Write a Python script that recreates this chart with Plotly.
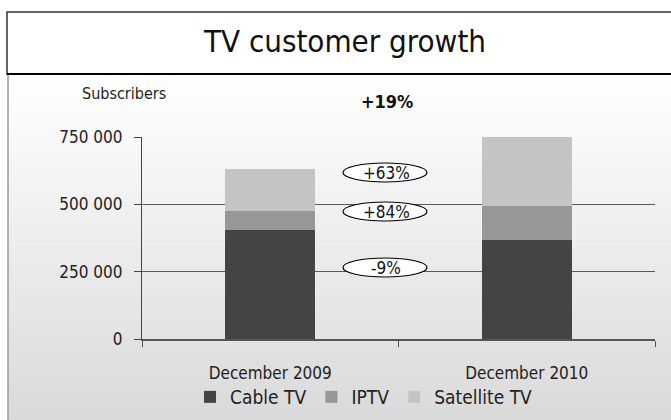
import plotly.graph_objects as go

# ---- data ----
categories = ["December 2009", "December 2010"]
cable_tv = [405000, 368000]
iptv = [70000, 126000]
satellite_tv = [156000, 256000]
series_names = ["Cable TV", "IPTV", "Satellite TV"]
growth_labels = ["+63%", "+84%", "-9%"]
total_growth = "+19%"
y_tick_vals = [0, 250000, 500000, 750000]
y_tick_text = ["0", "250 000", "500 000", "750 000"]

FONT = "DejaVu Sans Condensed, Liberation Sans Narrow, sans-serif"
colors = ["#444444", "#979797", "#c4c4c4"]

W, H = 671, 420
L, R, T, B = 142, 16, 137, 81
PW, PH = W - L - R, H - T - B


def px_x(x):
    return (x - L) / PW


def px_y(y):
    return (H - B - y) / PH


fig = go.Figure()
for name, vals, c in zip(series_names, [cable_tv, iptv, satellite_tv], colors):
    fig.add_trace(go.Bar(x=categories, y=vals, name=name, marker=dict(color=c, line=dict(width=0)),
                         hoverinfo="skip"))

shapes = []
# gradient background panel
n = 90
y_top, y_bot = 74, 420
for i in range(n):
    t = i / (n - 1)
    v = int(round(255 - t * (255 - 218)))
    ya = y_top + (y_bot - y_top) * i / n
    yb = y_top + (y_bot - y_top) * (i + 1) / n + 0.6
    shapes.append(dict(type="rect", xref="paper", yref="paper", layer="below",
                       x0=px_x(8), x1=px_x(W + 5), y0=px_y(ya), y1=px_y(yb),
                       fillcolor=f"rgb({v},{v},{v})", line=dict(width=0)))
# panel left border
shapes.append(dict(type="line", xref="paper", yref="paper", layer="above",
                   x0=px_x(8), x1=px_x(8), y0=px_y(74), y1=px_y(H + 5),
                   line=dict(color="#9a9a9a", width=1.5)))
# title box
shapes.append(dict(type="rect", xref="paper", yref="paper", layer="above",
                   x0=px_x(7), x1=px_x(W + 5), y0=px_y(74), y1=px_y(12),
                   fillcolor="rgba(0,0,0,0)", line=dict(color="#333333", width=1.5)))
shapes.append(dict(type="line", xref="paper", yref="paper", layer="above",
                   x0=px_x(7), x1=px_x(W + 5), y0=px_y(74), y1=px_y(74),
                   line=dict(color="#000000", width=2)))

# ellipses for growth labels
ell_centers = [172.5, 211.5, 267.5]
annotations = []
for lab, cy in zip(growth_labels, ell_centers):
    shapes.append(dict(type="circle", xref="paper", yref="paper", layer="above",
                       x0=px_x(343), x1=px_x(427), y0=px_y(cy + 9.5), y1=px_y(cy - 9.5),
                       fillcolor="white", line=dict(color="#000000", width=1.2)))
    annotations.append(dict(text=lab, xref="paper", yref="paper", x=px_x(386), y=px_y(cy),
                            showarrow=False, xanchor="center", yanchor="middle",
                            font=dict(family=FONT, size=17, color="#111111")))

annotations.append(dict(text="Subscribers", xref="paper", yref="paper", x=px_x(124), y=px_y(93),
                        showarrow=False, xanchor="center", yanchor="middle",
                        font=dict(family=FONT, size=16, color="#222222")))
annotations.append(dict(text="<b>" + total_growth + "</b>", xref="paper", yref="paper",
                        x=px_x(387), y=px_y(101), showarrow=False, xanchor="center", yanchor="middle",
                        font=dict(family=FONT, size=18, color="#111111")))

fig.update_layout(
    width=W, height=H,
    margin=dict(l=L, r=R, t=T, b=B, pad=0, autoexpand=False),
    paper_bgcolor="white",
    plot_bgcolor="rgba(0,0,0,0)",
    barmode="stack",
    bargap=0.65,
    font=dict(family=FONT, color="#222222"),
    title=dict(text="TV customer growth", x=345 / W, xanchor="center", y=1 - 41 / H,
               yanchor="middle", xref="container", yref="container",
               font=dict(family=FONT, size=31, color="#111111")),
    shapes=shapes,
    annotations=annotations,
    showlegend=True,
    legend=dict(orientation="h", xref="container", yref="container",
                x=190 / W, xanchor="left", y=1 - 397 / H, yanchor="middle",
                traceorder="normal", font=dict(family=FONT, size=19, color="#222222"),
                bgcolor="rgba(0,0,0,0)", itemwidth=30),
)
fig.update_yaxes(range=[0, 750000], tickvals=y_tick_vals, ticktext=y_tick_text,
                 showgrid=True, gridcolor="#5a5a5a", gridwidth=1.2, zeroline=False,
                 showline=True, linecolor="#444444", linewidth=1.2,
                 ticks="outside", ticklen=7, tickcolor="#444444", tickwidth=1.2,
                 ticklabelstandoff=8,
                 tickfont=dict(family=FONT, size=17, color="#222222"))
fig.update_xaxes(showline=True, linecolor="#555555", linewidth=1.5,
                 ticks="outside", tickson="boundaries", ticklen=6, tickcolor="#555555",
                 tickwidth=1.2, ticklabelstandoff=18,
                 tickfont=dict(family=FONT, size=17, color="#222222"))

fig.write_html("out.html", config={"displayModeBar": False},
               post_script="document.body.style.margin='0px';")
